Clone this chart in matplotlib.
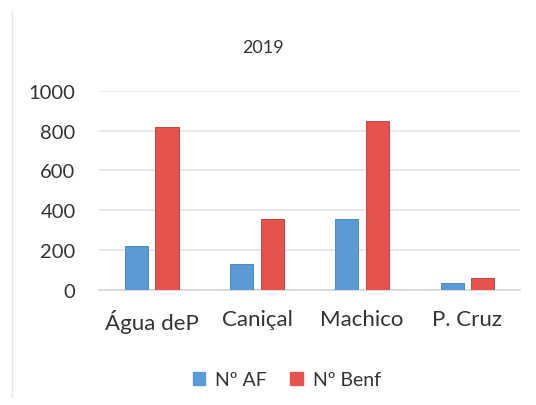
import numpy as np
import matplotlib
matplotlib.use('Agg')
import matplotlib.pyplot as plt
from matplotlib.lines import Line2D

plt.rcParams['font.family'] = ['Lato', 'DejaVu Sans']

cats = ['Água deP', 'Caniçal', 'Machico', 'P. Cruz']
n_af = [220, 128, 357, 32]
n_benf = [817, 353, 848, 60]
series = ['Nº AF', 'Nº Benf']
yticks = [0, 200, 400, 600, 800, 1000]

blue = '#5B9BD5'
red = '#E8524E'

fig = plt.figure(figsize=(5.36, 4.06), dpi=100)
ax = fig.add_axes([0.185, 0.284, 0.785, 0.49])

x = np.arange(len(cats))
w = 0.22
gap = 0.07
ax.bar(x - (w + gap) / 2, n_af, w, color=blue, edgecolor='#3F7FB8', linewidth=0.6, label=series[0], zorder=3)
ax.bar(x + (w + gap) / 2, n_benf, w, color=red, edgecolor='#B03A36', linewidth=0.6, label=series[1], zorder=3)

ax.set_xlim(-0.5, len(cats) - 0.5)
ax.set_ylim(0, 1000)
ax.set_yticks(yticks)
ax.set_xticks(x)
ax.set_xticklabels(cats)
ax.tick_params(axis='y', length=0, pad=17, labelsize=14.5, labelcolor='#333333')
ax.tick_params(axis='x', length=0, pad=14, labelsize=16, labelcolor='#333333')
ax.grid(axis='y', color='#E4E4E4', linewidth=1.2, zorder=0)
for s in ['top', 'right', 'left']:
    ax.spines[s].set_visible(False)
ax.spines['bottom'].set_color('#D6D6D6')
ax.spines['bottom'].set_linewidth(1.2)

fig.text(0.49, 0.882, '2019', ha='center', va='center', fontsize=13, color='#333333')

handles = [plt.Rectangle((0, 0), 1, 1, color=blue), plt.Rectangle((0, 0), 1, 1, color=red)]
fig.legend(handles, series, loc='center', bbox_to_anchor=(0.535, 0.062), ncol=2, frameon=False,
           fontsize=14, handlelength=0.65, handleheight=0.65, handletextpad=0.5, columnspacing=1.2,
           labelcolor='#333333')

fig.add_artist(Line2D([0.022, 0.022], [0.02, 0.97], color='#E6E6E6', linewidth=1))

fig.savefig('out.png', dpi=100, facecolor='white')
